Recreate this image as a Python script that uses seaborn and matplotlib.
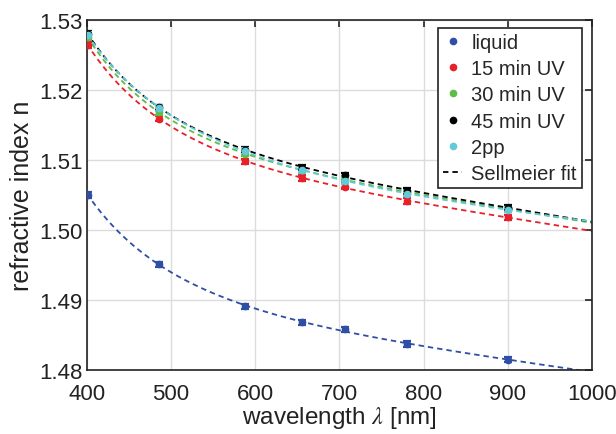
import numpy as np
import pandas as pd
import matplotlib
matplotlib.use("Agg")
import matplotlib.pyplot as plt
import seaborn as sns
from matplotlib.lines import Line2D

# measured wavelengths (nm)
wavelength = [401, 486, 588, 656, 707, 780, 900]

# refractive index per sample
n_liquid = [1.5050, 1.4951, 1.4891, 1.4868, 1.4858, 1.4837, 1.4815]
n_15min = [1.5264, 1.5159, 1.5098, 1.5074, 1.5062, 1.5041, 1.5018]
n_30min = [1.5275, 1.5168, 1.5109, 1.5085, 1.5073, 1.5053, 1.5030]
n_45min = [1.5280, 1.5175, 1.5114, 1.5089, 1.5078, 1.5056, 1.5032]
n_2pp = [1.5278, 1.5174, 1.5113, 1.5085, 1.5070, 1.5052, 1.5029]
n_err = 0.0004

labels = ["liquid", "15 min UV", "30 min UV", "45 min UV", "2pp"]
colors = ["#2F4FA5", "#E8202A", "#5EBD44", "#000000", "#62CAD9"]

sns.set_style("white")
plt.rcParams["font.family"] = ["Liberation Sans", "DejaVu Sans"]
plt.rcParams["mathtext.fontset"] = "stix"

fig = plt.figure(figsize=(6.16, 4.35), dpi=100)
ax = fig.add_axes([0.141, 0.147, 0.820, 0.805])


def basis(lam):
    lam = np.asarray(lam, dtype=float) / 1000.0
    return np.column_stack([np.ones_like(lam), lam ** -2, lam ** -4, lam ** 2])


# dispersion fit (UV terms + IR term) from the measured points
lam_fit = np.linspace(400, 1000, 300)
series = [n_liquid, n_15min, n_30min, n_45min, n_2pp]
for n, c in zip(series, colors):
    coef, *_ = np.linalg.lstsq(basis(wavelength), np.array(n), rcond=None)
    fit = pd.DataFrame({"lam": lam_fit, "n": basis(lam_fit) @ coef})
    sns.lineplot(data=fit, x="lam", y="n", ax=ax, color=c, lw=1.3,
                 linestyle=(0, (3, 2.2)))

for n, c in zip(series, colors):
    ax.errorbar(wavelength, n, yerr=n_err, fmt="o", ms=4.5, color=c,
                ecolor=c, elinewidth=1.3, capsize=3, capthick=1.6, zorder=3)

ax.set_xlim(400, 1000)
ax.set_ylim(1.48, 1.53)
ax.set_xticks(range(400, 1001, 100))
ax.set_yticks([1.48, 1.49, 1.50, 1.51, 1.52, 1.53])
ax.set_yticklabels(["1.48", "1.49", "1.50", "1.51", "1.52", "1.53"])
ax.grid(True, color="#DCDCDC", lw=1)
ax.tick_params(direction="in", length=5, width=1.2, top=True, right=True,
               labelsize=16, pad=3, colors="#222222")
ax.tick_params(axis="x", pad=9)
for s in ax.spines.values():
    s.set_color("#222222")
    s.set_linewidth(1.2)
ax.set_xlabel(r"wavelength $\lambda$ [nm]", fontsize=17.5, labelpad=0, color="#222222")
ax.set_ylabel("refractive index n", fontsize=18, labelpad=4, color="#222222")

handles = [Line2D([], [], marker="o", ls="none", ms=4.5, color=c) for c in colors]
handles.append(Line2D([], [], color="black", lw=1.3, linestyle=(0, (3, 2.2))))
leg = ax.legend(handles, labels + ["Sellmeier fit"], loc="upper right",
                fontsize=14.5, frameon=True, fancybox=False, handlelength=0.95,
                handletextpad=0.45, borderpad=0.25, labelspacing=0.36,
                bbox_to_anchor=(0.98, 0.977), borderaxespad=0)
leg.get_frame().set_edgecolor("#222222")
leg.get_frame().set_linewidth(1.2)
leg.get_frame().set_alpha(1)

fig.savefig("out.png", dpi=100)
